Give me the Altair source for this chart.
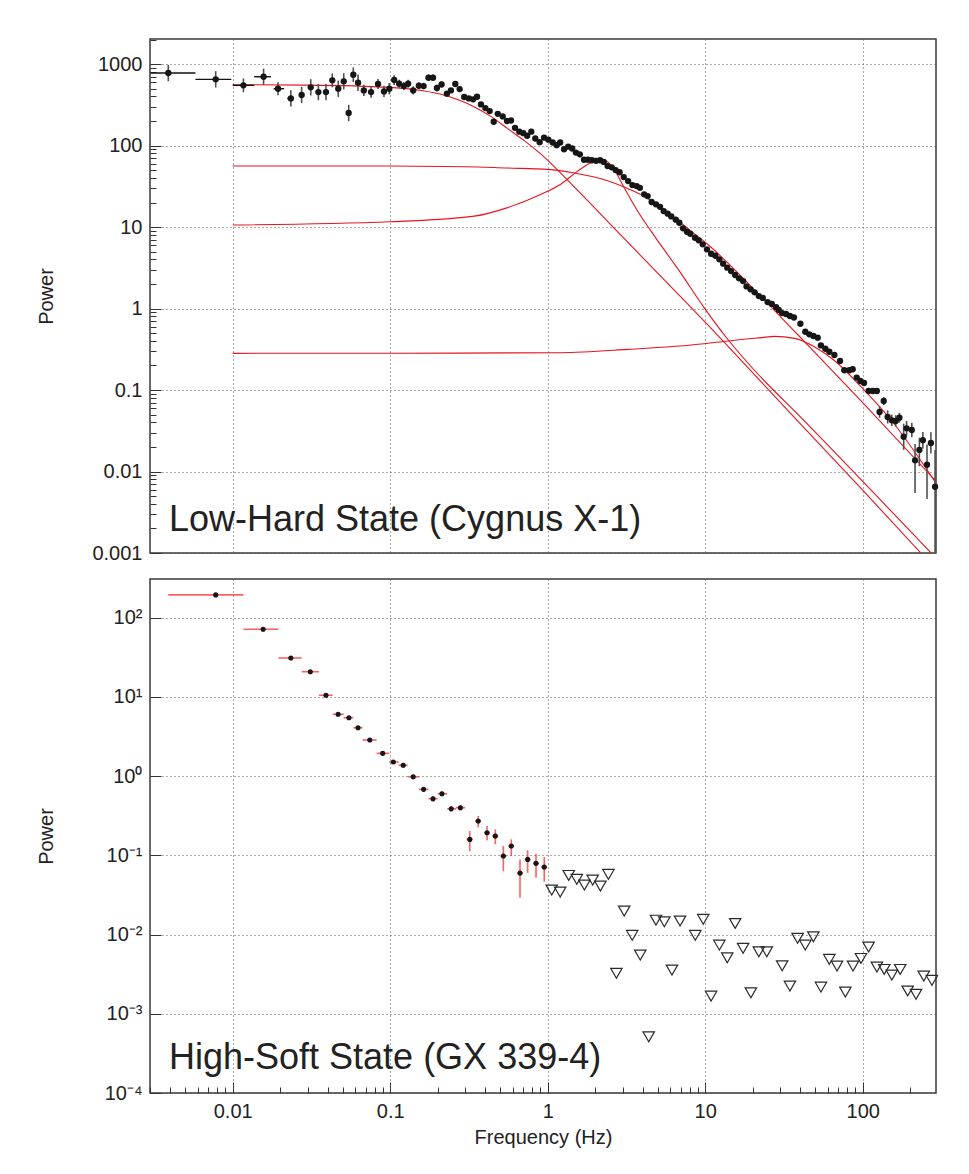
import altair as alt
import pandas as pd

# ---------------- Top panel: Cygnus X-1 (low-hard state) ----------------
cyg_freq = [0.0039, 0.0078, 0.0117, 0.0157, 0.0194, 0.0234, 0.0274, 0.0313, 0.0350, 0.0391,
            0.0429, 0.0468, 0.0507, 0.0545, 0.0583, 0.0625, 0.0680, 0.0756, 0.0837, 0.0913,
            0.0987, 0.106, 0.114, 0.122, 0.130, 0.140, 0.152, 0.163, 0.175, 0.187,
            0.198, 0.212, 0.229, 0.243, 0.259, 0.276, 0.295, 0.316, 0.336, 0.356,
            0.377, 0.402, 0.428, 0.454, 0.482, 0.518, 0.552, 0.585, 0.620, 0.660,
            0.700, 0.741, 0.787, 0.834, 0.889, 0.948, 1.01, 1.076, 1.14, 1.20,
            1.27, 1.35, 1.43, 1.51, 1.60, 1.70, 1.80, 1.91, 2.03, 2.15,
            2.27, 2.40, 2.55, 2.70, 2.86, 3.04, 3.24, 3.45, 3.67, 3.85,
            4.10, 4.31, 4.57, 4.87, 5.17, 5.45, 5.78, 6.09, 6.50, 6.85,
            7.23, 7.66, 8.04, 8.61, 9.09, 9.64, 10.26, 10.9, 11.6, 12.3,
            13.0, 13.8, 14.6, 15.5, 16.4, 17.4, 18.3, 19.4, 20.6, 21.9,
            23.2, 24.9, 26.5, 28.2, 29.3, 30.8, 32.6, 34.5, 36.6, 40.2,
            43.2, 45.8, 48.6, 51.8, 54.3, 57.9, 61.4, 66.1, 71.8, 76.4,
            82.2, 86.4, 91.6, 96.6, 102, 109, 116, 123, 128, 136,
            144, 153, 162, 171, 182, 190, 205, 215, 229, 241,
            256, 271, 288]
cyg_power = [776, 649, 548, 698, 498, 379, 417, 518, 453, 453,
             631, 498, 614, 251, 740, 590, 475, 453, 569, 462,
             498, 637, 573, 537, 573, 475, 542, 537, 680, 680,
             508, 563, 433, 475, 569, 493, 394, 379, 369, 397,
             320, 288, 265, 196, 245, 228, 200, 203, 165, 148,
             142, 132, 148, 122, 110, 125, 118, 109, 101, 109,
             90, 97, 92, 82, 78, 67, 67, 66, 65, 66,
             63, 56, 54, 50, 47, 41, 36.6, 32.7, 31.8, 30.3,
             25.2, 24.0, 20.3, 19.0, 17.7, 15.7, 14.6, 13.5, 12.3, 11.3,
             9.64, 8.75, 8.27, 7.39, 6.87, 6.13, 5.32, 4.70, 4.44, 4.02,
             3.55, 3.17, 2.88, 2.58, 2.35, 2.17, 1.87, 1.72, 1.58, 1.42,
             1.35, 1.20, 1.14, 1.04, 0.96, 0.88, 0.857, 0.81, 0.776, 0.65,
             0.519, 0.482, 0.46, 0.439, 0.353, 0.321, 0.295, 0.269, 0.227, 0.175,
             0.175, 0.18, 0.142, 0.129, 0.122, 0.0973, 0.0973, 0.0973, 0.0537, 0.0733,
             0.0467, 0.0425, 0.0417, 0.0457, 0.0267, 0.0339, 0.0323, 0.0137, 0.0184, 0.0242,
             0.0121, 0.0224, 0.0065]
# error bar half-lengths in decades (upper / lower)
cyg_err_up = ([0.10, 0.10, 0.085, 0.10, 0.08, 0.10, 0.10, 0.10, 0.10, 0.10,
               0.085, 0.10, 0.10, 0.10, 0.09, 0.10, 0.07, 0.07, 0.06, 0.07,
               0.07, 0.06, 0.05, 0.05, 0.05, 0.05, 0.04, 0.04, 0.04, 0.04,
               0.04, 0.04, 0.03, 0.03, 0.03, 0.03, 0.03, 0.02, 0.02, 0.02]
              + [0.02] * 10 + [0.015] * 10 + [0.012] * 70
              + [0.02, 0.02, 0.02, 0.02, 0.02, 0.03, 0.03, 0.03, 0.07, 0.05,
                 0.08, 0.07, 0.07, 0.06, 0.16, 0.09, 0.09, 0.20, 0.15, 0.10,
                 0.25, 0.13, 0.45])
cyg_err_dn = list(cyg_err_up)
cyg_err_dn[147] = 0.40
cyg_err_dn[148] = 0.20
cyg_err_dn[150] = 0.42
cyg_err_dn[152] = 0.85
# horizontal (bin) bars of the first low-frequency points
cyg_bin_lo = [0.0030, 0.0058, 0.0100, 0.0137, 0.0182, 0.0222]
cyg_bin_hi = [0.0058, 0.0098, 0.0137, 0.0175, 0.0212, 0.0245]

# model components
lorA_freq = [0.01, 0.03, 0.1, 0.165, 0.21, 0.27, 0.34, 0.44, 0.56, 0.71, 0.91, 1.5, 3.0, 10.0, 38.6, 100, 234]
lorA_power = [558, 552, 517, 467, 425, 365, 300, 225, 160, 115, 78, 30, 7.5, 0.68, 0.0417, 0.0059, 0.001]
lorB_freq = [0.01, 0.1, 0.3, 0.55, 1.0, 1.48, 2.4, 3.06, 3.91, 4.99, 6.37, 8.13, 10.4, 16.9, 21.5, 27.5, 38.6, 100, 292]
lorB_power = [56, 56, 55, 53, 51, 46, 37, 31, 25, 18.5, 13, 8.9, 6.1, 2.5, 1.55, 0.95, 0.48, 0.07, 0.0076]
lorC_freq = [0.01, 0.1, 0.342, 0.557, 0.908, 1.21, 1.55, 1.88, 2.13, 2.35, 2.59, 3.06, 3.72, 4.53, 7.02, 9.86, 13.9, 20.0, 42.6, 272]
lorC_power = [10.6, 11.6, 13.6, 17.3, 25.2, 33.5, 48.6, 61.5, 66.4, 64.5, 53.5, 30.4, 15.7, 8.9, 2.7, 1.02, 0.42, 0.185, 0.0417, 0.001]
lorD_freq = [0.01, 0.1, 1.21, 3.22, 9.86, 13.9, 22.9, 27.5, 36.8, 49.3, 66.1, 97.5, 159, 292]
lorD_power = [0.282, 0.283, 0.287, 0.315, 0.37, 0.40, 0.44, 0.455, 0.43, 0.34, 0.23, 0.11, 0.038, 0.0072]

# ---------------- Bottom panel: GX 339-4 (high-soft state) ----------------
gx_freq = [0.0078, 0.0156, 0.0234, 0.0311, 0.0391, 0.0467, 0.0547, 0.0625, 0.0742, 0.0896,
           0.1047, 0.121, 0.140, 0.163, 0.187, 0.213, 0.244, 0.279, 0.320, 0.362,
           0.412, 0.465, 0.523, 0.587, 0.667, 0.746, 0.843, 0.951]
gx_power = [194, 71.5, 31.0, 20.8, 10.5, 6.03, 5.46, 4.08, 2.86, 1.94,
            1.51, 1.37, 0.98, 0.681, 0.519, 0.60, 0.387, 0.399, 0.159, 0.271,
            0.193, 0.175, 0.098, 0.131, 0.0597, 0.0889, 0.0792, 0.0712]
gx_lo = [189, 69.5, 30.0, 20.1, 10.1, 5.80, 5.25, 3.92, 2.74, 1.86,
         1.45, 1.31, 0.93, 0.64, 0.48, 0.56, 0.355, 0.37, 0.113, 0.227,
         0.155, 0.138, 0.063, 0.098, 0.0292, 0.0603, 0.0521, 0.0465]
gx_hi = [199, 73.5, 32.0, 21.5, 10.9, 6.25, 5.67, 4.24, 2.98, 2.02,
         1.57, 1.43, 1.03, 0.72, 0.56, 0.64, 0.42, 0.43, 0.203, 0.313,
         0.234, 0.213, 0.131, 0.159, 0.0889, 0.116, 0.105, 0.0953]
gx_bin_lo = [0.0039, 0.0117, 0.0195, 0.0274, 0.0352, 0.0431, 0.0507, 0.0583, 0.0667, 0.0820,
             0.0986, 0.113, 0.129, 0.152, 0.175, 0.200, 0.230, 0.262, 0.306, 0.346,
             0.394, 0.445, 0.500, 0.562, 0.638, 0.714, 0.807, 0.910]
gx_bin_hi = [0.0117, 0.0195, 0.0274, 0.0352, 0.0431, 0.0507, 0.0583, 0.0667, 0.0820, 0.0986,
             0.113, 0.129, 0.152, 0.175, 0.200, 0.230, 0.262, 0.299, 0.334, 0.378,
             0.431, 0.486, 0.547, 0.613, 0.697, 0.780, 0.881, 0.994]
# upper limits (open triangles)
ul_freq = [1.06, 1.20, 1.36, 1.53, 1.71, 1.93, 2.16, 2.43, 2.73, 3.06,
           3.44, 3.87, 4.38, 4.87, 5.50, 6.15, 6.92, 8.65, 9.72, 10.9,
           12.3, 13.8, 15.5, 17.4, 19.5, 21.9, 24.6, 30.8, 34.5, 38.6,
           43.2, 48.6, 54.3, 61.4, 68.7, 77.6, 86.8, 97.5, 109, 123,
           137, 153, 173, 193, 218, 244, 275]
ul_power = [0.0365, 0.0344, 0.0558, 0.0498, 0.0422, 0.0488, 0.0409, 0.0575, 0.00324, 0.0198,
            0.00977, 0.00551, 0.000513, 0.0152, 0.0145, 0.00357, 0.0148, 0.00977, 0.0156, 0.00167,
            0.00736, 0.00509, 0.0138, 0.0067, 0.00184, 0.00607, 0.00607, 0.00404, 0.00224, 0.00896,
            0.00736, 0.00938, 0.00217, 0.00486, 0.0040, 0.00188, 0.0040, 0.0050, 0.00695, 0.00389,
            0.00363, 0.00308, 0.00363, 0.00194, 0.00176, 0.00299, 0.00264]

top_label = "Low-Hard State (Cygnus X-1)"
bottom_label = "High-Soft State (GX 339-4)"

# axis tick positions
major_x = [0.01, 0.1, 1, 10, 100]
minor_x = [m * 10.0 ** e for e in range(-3, 3) for m in range(2, 10) if 0.00299 <= m * 10.0 ** e <= 292]
major_y_top = [0.001, 0.01, 0.1, 1, 10, 100, 1000]
minor_y_top = [m * 10.0 ** e for e in range(-3, 4) for m in range(2, 10) if m * 10.0 ** e <= 2030]
major_y_bot = [1e-4, 1e-3, 1e-2, 1e-1, 1, 10, 100]

FONT = "Liberation Sans"
TXT = "#222222"
LBL = 20
W, H = 786, 514

xs = alt.Scale(type="log", domain=[0.002985, 292], nice=False)
ys_top = alt.Scale(type="log", domain=[0.001, 2030], nice=False)
ys_bot = alt.Scale(type="log", domain=[1e-4, 308], nice=False)


def grid_axis(orient, values):
    return alt.Axis(orient=orient, values=values, grid=True, gridDash=[1, 3], gridColor="#555555",
                    gridWidth=1, ticks=False, labels=False, domain=False, title=None)


def tick_axis(orient, values, size, labels=False, title=None, fmt=None, label_expr=None, pad=8,
              title_x=None):
    kw = dict(orient=orient, values=values, offset=-size, tickSize=size, tickColor="#333333",
              tickWidth=1, grid=False, domain=False, labels=labels, labelOverlap=False,
              labelFlush=False, labelFont=FONT, labelFontSize=LBL, labelColor=TXT, labelPadding=pad)
    if fmt:
        kw["format"] = fmt
    if label_expr:
        kw["labelExpr"] = label_expr
    if title:
        kw.update(title=title, titleFont=FONT, titleFontSize=LBL, titleFontWeight="normal",
                  titleColor=TXT)
        if title_x is not None:
            kw.update(titleX=title_x, titleAngle=270, titleBaseline="middle", titleAlign="center")
        else:
            kw.update(titlePadding=6)
    else:
        kw["title"] = None
    return alt.Axis(**kw)


dummy = pd.DataFrame({"f": [1.0], "p": [1.0]})


def ghost(xaxis, yaxis, ys):
    return alt.Chart(dummy).mark_point(opacity=0, size=1).encode(
        x=alt.X("f:Q", scale=xs, axis=xaxis),
        y=alt.Y("p:Q", scale=ys, axis=yaxis),
    )


# ---------------- build top panel ----------------
cyg = pd.DataFrame({"f": cyg_freq, "p": cyg_power, "eu": cyg_err_up, "ed": cyg_err_dn})
cyg["lo"] = cyg["p"] * 10 ** (-cyg["ed"])
cyg["hi"] = cyg["p"] * 10 ** (cyg["eu"])
n_bin = len(cyg_bin_lo)
cyg_bins = pd.DataFrame({"flo": cyg_bin_lo, "fhi": cyg_bin_hi, "p": cyg_power[:n_bin]})

rows = []
for name, fl, pl in [("A", lorA_freq, lorA_power), ("B", lorB_freq, lorB_power),
                     ("C", lorC_freq, lorC_power), ("D", lorD_freq, lorD_power)]:
    rows += [{"comp": name, "f": a, "p": b} for a, b in zip(fl, pl)]
curves_df = pd.DataFrame(rows)

NX = dict(scale=xs, axis=None)

top_layers = [
    ghost(grid_axis("bottom", major_x), grid_axis("left", major_y_top), ys_top),
    alt.Chart(curves_df).mark_line(color="#e8141c", strokeWidth=1.1, interpolate="monotone",
                                   clip=True).encode(
        x=alt.X("f:Q", **NX), y=alt.Y("p:Q", scale=ys_top, axis=None), detail="comp:N"),
    alt.Chart(cyg).mark_rule(color="#505050", strokeWidth=1.6, clip=True).encode(
        x=alt.X("f:Q", **NX), y=alt.Y("lo:Q", scale=ys_top, axis=None), y2="hi:Q"),
    alt.Chart(cyg_bins).mark_rule(color="#111111", strokeWidth=1.4).encode(
        x=alt.X("flo:Q", **NX), x2="fhi:Q", y=alt.Y("p:Q", scale=ys_top, axis=None)),
    alt.Chart(cyg).mark_circle(size=40, color="#161616", opacity=1).encode(
        x=alt.X("f:Q", **NX), y=alt.Y("p:Q", scale=ys_top, axis=None)),
    ghost(None, tick_axis("left", major_y_top, 11, labels=True, title="Power", fmt="~g",
                          title_x=-115), ys_top),
    ghost(None, tick_axis("left", minor_y_top, 6), ys_top),
    alt.Chart(pd.DataFrame({"t": [top_label]})).mark_text(
        align="left", baseline="alphabetic", font=FONT, fontSize=36, color=TXT).encode(
        x=alt.value(19), y=alt.value(492), text="t:N"),
]
top = alt.layer(*top_layers).resolve_axis(x="independent", y="independent").properties(
    width=W, height=H)

# ---------------- build bottom panel ----------------
gx = pd.DataFrame({"f": gx_freq, "p": gx_power, "lo": gx_lo, "hi": gx_hi,
                   "flo": gx_bin_lo, "fhi": gx_bin_hi})
ul = pd.DataFrame({"f": ul_freq, "p": ul_power})

sup_expr = ("datum.value >= 50 ? '10²' : datum.value >= 5 ? '10¹' : datum.value >= 0.5 ? '10⁰' : "
            "datum.value >= 0.05 ? '10⁻¹' : datum.value >= 0.005 ? '10⁻²' : "
            "datum.value >= 0.0005 ? '10⁻³' : '10⁻⁴'")

bot_layers = [
    ghost(grid_axis("bottom", major_x), grid_axis("left", major_y_bot), ys_bot),
    alt.Chart(gx).mark_rule(color="#ff2a2a", strokeWidth=1.6, opacity=0.75).encode(
        x=alt.X("f:Q", **NX), y=alt.Y("lo:Q", scale=ys_bot, axis=None), y2="hi:Q"),
    alt.Chart(gx).mark_rule(color="#ff2a2a", strokeWidth=1.6, opacity=0.75).encode(
        x=alt.X("flo:Q", **NX), x2="fhi:Q", y=alt.Y("p:Q", scale=ys_bot, axis=None)),
    alt.Chart(gx).mark_circle(size=26, color="#161616", opacity=1).encode(
        x=alt.X("f:Q", **NX), y=alt.Y("p:Q", scale=ys_bot, axis=None)),
    alt.Chart(ul).mark_point(shape="triangle-down", filled=False, size=130, color="#2a2a2a",
                             strokeWidth=1.2, opacity=1).encode(
        x=alt.X("f:Q", **NX), y=alt.Y("p:Q", scale=ys_bot, axis=None)),
    ghost(tick_axis("bottom", major_x, 11, labels=True, title="Frequency (Hz)", fmt="~g", pad=8),
          tick_axis("left", major_y_bot, 11, labels=True, title="Power", label_expr=sup_expr,
                    title_x=-115), ys_bot),
    ghost(tick_axis("bottom", minor_x, 6), None, ys_bot),
    alt.Chart(pd.DataFrame({"t": [bottom_label]})).mark_text(
        align="left", baseline="alphabetic", font=FONT, fontSize=36, color=TXT).encode(
        x=alt.value(19), y=alt.value(490), text="t:N"),
]
bot = alt.layer(*bot_layers).resolve_axis(x="independent", y="independent").properties(
    width=W, height=H)

chart = alt.vconcat(top, bot, spacing=26, bounds="flush").properties(
    padding={"left": 35, "top": 38, "right": 5, "bottom": 5}, background="white"
).configure_view(stroke="#3a3a3a", strokeWidth=1.5)

chart.save("out.html", embed_options={"renderer": "svg", "actions": False})
